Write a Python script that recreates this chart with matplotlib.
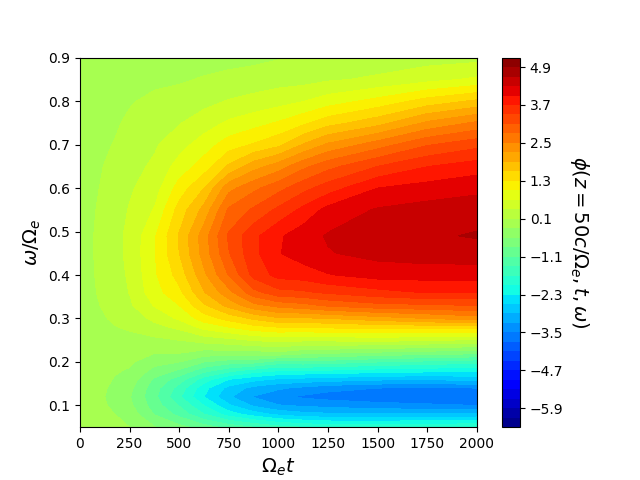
import numpy as np
import matplotlib
matplotlib.use('Agg')
import matplotlib.pyplot as plt

################################### Data #######################################

t_vals = [0, 100, 175, 250, 375, 500, 625, 750, 875, 1000, 1125, 1250, 1500, 1750, 2000]

omega_vals = [0.05, 0.08, 0.10, 0.12, 0.14, 0.16, 0.18, 0.20, 0.22, 0.25, 0.28, 0.30, 0.33,
              0.36, 0.40, 0.45, 0.49, 0.55, 0.60, 0.65, 0.70, 0.75, 0.80, 0.85, 0.90]

# phi, one list per time, same order as omega_vals
phi_t0 = [-0.02, -0.02, -0.02, -0.02, -0.02, -0.02, -0.02, -0.01, -0.01, 0.0, 0.0, 0.0, 0.0,
          0.0, 0.0, 0.0, 0.0, 0.0, 0.0, 0.0, 0.0, 0.0, 0.0, 0.0, 0.0]
phi_t100 = [-0.06, -0.10, -0.13, -0.15, -0.13, -0.10, -0.07, -0.04, -0.02, 0.02, 0.05, 0.07, 0.10,
            0.12, 0.135, 0.145, 0.145, 0.125, 0.103, 0.08, 0.06, 0.04, 0.02, 0.01, 0.0]
phi_t175 = [-0.13, -0.20, -0.27, -0.30, -0.27, -0.22, -0.17, -0.10, -0.05, 0.02, 0.09, 0.13, 0.20,
            0.25, 0.29, 0.31, 0.31, 0.27, 0.22, 0.17, 0.11, 0.07, 0.04, 0.01, 0.0]
phi_t250 = [-0.20, -0.33, -0.43, -0.48, -0.42, -0.33, -0.23, -0.15, -0.08, 0.03, 0.13, 0.20, 0.35,
            0.41, 0.44, 0.47, 0.47, 0.42, 0.36, 0.30, 0.22, 0.14, 0.08, 0.03, 0.0]
phi_t375 = [-0.48, -0.82, -0.95, -1.02, -0.98, -0.85, -0.60, -0.40, -0.20, 0.03, 0.30, 0.48, 0.72,
            0.88, 0.95, 0.98, 0.96, 0.72, 0.56, 0.45, 0.36, 0.26, 0.15, 0.05, 0.0]
phi_t500 = [-0.70, -1.20, -1.42, -1.65, -1.52, -1.25, -0.85, -0.50, -0.20, 0.10, 0.47, 0.75, 1.00,
            1.22, 1.42, 1.60, 1.63, 1.42, 1.13, 0.82, 0.58, 0.38, 0.20, 0.07, 0.0]
phi_t625 = [-0.95, -1.70, -2.00, -2.30, -2.20, -1.85, -1.30, -0.80, -0.35, 0.22, 0.80, 1.15, 1.55,
            1.88, 2.13, 2.33, 2.36, 2.00, 1.60, 1.14, 0.85, 0.55, 0.31, 0.12, 0.0]
phi_t750 = [-1.20, -2.15, -2.55, -2.85, -2.70, -2.30, -1.60, -0.95, -0.35, 0.30, 1.00, 1.40, 2.00,
            2.40, 2.82, 3.08, 3.15, 2.85, 2.40, 1.65, 1.15, 0.75, 0.42, 0.18, 0.0]
phi_t875 = [-1.40, -2.45, -2.95, -3.22, -3.00, -2.50, -1.85, -1.00, -0.35, 0.42, 1.20, 1.65, 2.40,
            3.00, 3.50, 3.62, 3.62, 3.15, 2.72, 2.07, 1.33, 0.88, 0.50, 0.22, 0.03]
phi_t1000 = [-1.60, -2.68, -3.18, -3.42, -3.15, -2.65, -2.00, -1.25, -0.30, 0.50, 1.30, 1.85, 2.60,
             3.30, 3.80, 3.98, 3.95, 3.47, 3.00, 2.35, 1.52, 1.03, 0.58, 0.28, 0.08]
phi_t1125 = [-1.70, -2.80, -3.25, -3.55, -3.28, -2.70, -2.05, -1.20, -0.45, 0.45, 1.30, 1.85, 2.70,
             3.35, 3.85, 4.15, 4.17, 3.78, 3.30, 2.72, 1.92, 1.23, 0.69, 0.29, 0.13]
phi_t1250 = [-1.80, -2.85, -3.30, -3.62, -3.40, -2.75, -2.05, -1.25, -0.50, 0.45, 1.35, 1.90, 2.85,
             3.45, 3.98, 4.28, 4.33, 4.10, 3.55, 3.00, 2.25, 1.48, 0.85, 0.36, 0.17]
phi_t1500 = [-1.80, -2.88, -3.40, -3.68, -3.50, -2.85, -2.15, -1.40, -0.60, 0.50, 1.40, 2.05, 3.00,
             3.60, 4.12, 4.40, 4.47, 4.33, 4.00, 3.40, 2.65, 1.78, 1.10, 0.45, 0.22]
phi_t1750 = [-1.75, -2.87, -3.45, -3.72, -3.55, -2.88, -2.20, -1.50, -0.68, 0.42, 1.42, 2.20, 3.05,
             3.72, 4.12, 4.47, 4.55, 4.42, 4.12, 3.69, 3.07, 2.25, 1.42, 0.60, 0.27]
phi_t2000 = [-1.70, -2.85, -3.50, -3.75, -3.50, -2.80, -2.25, -1.60, -0.75, 0.35, 1.45, 2.35, 3.10,
             3.70, 4.15, 4.45, 4.63, 4.47, 4.22, 3.85, 3.30, 2.55, 1.65, 0.75, 0.30]

phi_levels = np.arange(-6.5, 5.3, 0.3)

#################################### Plotting ##################################

phi = np.array([phi_t0, phi_t100, phi_t175, phi_t250, phi_t375, phi_t500, phi_t625, phi_t750,
                phi_t875, phi_t1000, phi_t1125, phi_t1250, phi_t1500, phi_t1750, phi_t2000]).T

fig, ax = plt.subplots(figsize=(6.4, 4.8), dpi=100)

cf = ax.contourf(t_vals, omega_vals, phi, levels=phi_levels, cmap='jet')
cbar = fig.colorbar(cf, ax=ax)
cbar.set_label(r'$\phi(z=50c/\Omega_e,t,\omega)$', fontsize=14, rotation=270, labelpad=20)

ax.set_xlabel(r'$\Omega_e t$', fontsize=14)
ax.set_ylabel(r'$\omega/\Omega_e$', fontsize=14)

fig.savefig('out.png', dpi=100)
